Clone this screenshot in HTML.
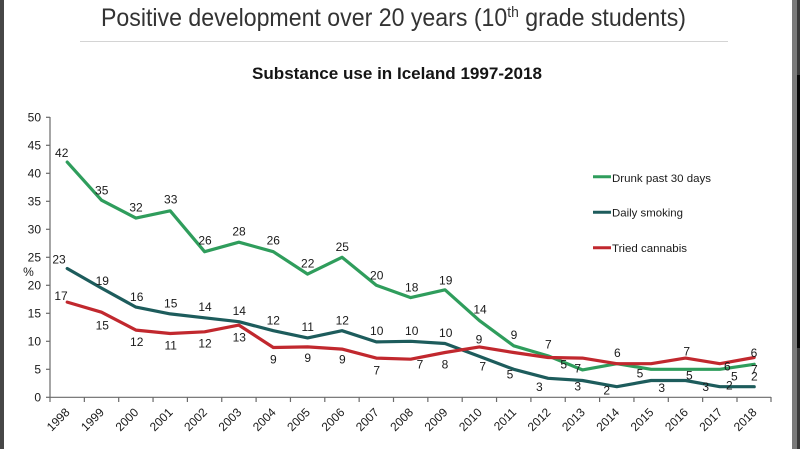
<!DOCTYPE html>
<html>
<head>
<meta charset="utf-8">
<style>
  html, body { margin:0; padding:0; background:#fff; }
  svg { display:block; }
  text { font-family: "Liberation Sans", Arial, sans-serif; fill:#1a1a1a; }
</style>
</head>
<body>
<svg width="800" height="449" viewBox="0 0 800 449" xmlns="http://www.w3.org/2000/svg">
  <rect x="0" y="0" width="800" height="449" fill="#ffffff"/>
  <!-- side borders -->
  <rect x="0" y="0" width="4" height="449" fill="#474747"/>
  <rect x="792" y="0" width="5" height="449" fill="#7a7a7a"/>
  <rect x="797" y="0" width="3" height="449" fill="#3a3a3a"/>
  <rect x="797" y="75" width="3" height="273" fill="#050505"/>

  <!-- Title -->
  <text x="101" y="26" font-size="25" textLength="585" lengthAdjust="spacingAndGlyphs" style="fill:#333">Positive development over 20 years (10<tspan font-size="15" dy="-9">th</tspan><tspan dy="9"> grade students)</tspan></text>
  <line x1="80" y1="41.5" x2="728" y2="41.5" stroke="#d4d4d4" stroke-width="1"/>

  <!-- Subtitle -->
  <text x="252" y="79" font-size="17" font-weight="bold" textLength="290" lengthAdjust="spacingAndGlyphs" style="fill:#151515">Substance use in Iceland 1997-2018</text>

  <!-- Axes -->
  <g stroke="#6a6a6a" stroke-width="1.2" fill="none">
    <line x1="50" y1="117" x2="50" y2="397.3"/>
    <line x1="50" y1="397.3" x2="771" y2="397.3"/>
    <!-- y ticks -->
    <line x1="46" y1="397.3" x2="50" y2="397.3"/>
    <line x1="46" y1="369.3" x2="50" y2="369.3"/>
    <line x1="46" y1="341.3" x2="50" y2="341.3"/>
    <line x1="46" y1="313.3" x2="50" y2="313.3"/>
    <line x1="46" y1="285.3" x2="50" y2="285.3"/>
    <line x1="46" y1="257.3" x2="50" y2="257.3"/>
    <line x1="46" y1="229.3" x2="50" y2="229.3"/>
    <line x1="46" y1="201.3" x2="50" y2="201.3"/>
    <line x1="46" y1="173.3" x2="50" y2="173.3"/>
    <line x1="46" y1="145.3" x2="50" y2="145.3"/>
    <line x1="46" y1="117.3" x2="50" y2="117.3"/>
    <!-- x ticks -->
    <line x1="50" y1="397" x2="50" y2="402"/>
    <line x1="84.35" y1="397" x2="84.35" y2="402"/>
    <line x1="118.7" y1="397" x2="118.7" y2="402"/>
    <line x1="153.05" y1="397" x2="153.05" y2="402"/>
    <line x1="187.4" y1="397" x2="187.4" y2="402"/>
    <line x1="221.75" y1="397" x2="221.75" y2="402"/>
    <line x1="256.1" y1="397" x2="256.1" y2="402"/>
    <line x1="290.45" y1="397" x2="290.45" y2="402"/>
    <line x1="324.8" y1="397" x2="324.8" y2="402"/>
    <line x1="359.15" y1="397" x2="359.15" y2="402"/>
    <line x1="393.5" y1="397" x2="393.5" y2="402"/>
    <line x1="427.85" y1="397" x2="427.85" y2="402"/>
    <line x1="462.2" y1="397" x2="462.2" y2="402"/>
    <line x1="496.55" y1="397" x2="496.55" y2="402"/>
    <line x1="530.9" y1="397" x2="530.9" y2="402"/>
    <line x1="565.25" y1="397" x2="565.25" y2="402"/>
    <line x1="599.6" y1="397" x2="599.6" y2="402"/>
    <line x1="633.95" y1="397" x2="633.95" y2="402"/>
    <line x1="668.3" y1="397" x2="668.3" y2="402"/>
    <line x1="702.65" y1="397" x2="702.65" y2="402"/>
    <line x1="737" y1="397" x2="737" y2="402"/>
    <line x1="771" y1="397" x2="771" y2="402"/>
  </g>

  <!-- y labels -->
  <g font-size="12" text-anchor="end">
    <text x="41" y="401.5">0</text>
    <text x="41" y="373.5">5</text>
    <text x="41" y="345.5">10</text>
    <text x="41" y="317.5">15</text>
    <text x="41" y="289.5">20</text>
    <text x="41" y="261.5">25</text>
    <text x="41" y="233.5">30</text>
    <text x="41" y="205.5">35</text>
    <text x="41" y="177.5">40</text>
    <text x="41" y="149.5">45</text>
    <text x="41" y="121.5">50</text>
  </g>
  <text x="28.5" y="276" font-size="12" text-anchor="middle">%</text>

  <!-- x labels (rotated) -->
  <g font-size="12" text-anchor="end">
    <text transform="translate(70.5,413) rotate(-45)">1998</text>
    <text transform="translate(104.8,413) rotate(-45)">1999</text>
    <text transform="translate(139.2,413) rotate(-45)">2000</text>
    <text transform="translate(173.5,413) rotate(-45)">2001</text>
    <text transform="translate(207.9,413) rotate(-45)">2002</text>
    <text transform="translate(242.2,413) rotate(-45)">2003</text>
    <text transform="translate(276.6,413) rotate(-45)">2004</text>
    <text transform="translate(310.9,413) rotate(-45)">2005</text>
    <text transform="translate(345.3,413) rotate(-45)">2006</text>
    <text transform="translate(379.6,413) rotate(-45)">2007</text>
    <text transform="translate(414.0,413) rotate(-45)">2008</text>
    <text transform="translate(448.3,413) rotate(-45)">2009</text>
    <text transform="translate(482.7,413) rotate(-45)">2010</text>
    <text transform="translate(517.0,413) rotate(-45)">2011</text>
    <text transform="translate(551.4,413) rotate(-45)">2012</text>
    <text transform="translate(585.7,413) rotate(-45)">2013</text>
    <text transform="translate(620.1,413) rotate(-45)">2014</text>
    <text transform="translate(654.4,413) rotate(-45)">2015</text>
    <text transform="translate(688.8,413) rotate(-45)">2016</text>
    <text transform="translate(723.1,413) rotate(-45)">2017</text>
    <text transform="translate(757.5,413) rotate(-45)">2018</text>
  </g>

  <!-- Series lines -->
  <polyline fill="none" stroke="#2f9d5c" stroke-width="3.2" stroke-linejoin="round" stroke-linecap="round"
    points="67.2,162.1 101.5,200.2 135.9,218.1 170.2,210.8 204.6,251.7 238.9,242.2 273.3,251.7 307.6,274.1 342.0,257.3 376.3,285.3 410.7,297.6 445.0,289.8 479.4,320.6 513.7,345.8 548.1,355.9 582.4,369.9 616.8,363.7 651.1,369.3 685.5,369.3 719.8,369.3 754.2,364.3"/>
  <polyline fill="none" stroke="#1d5c5c" stroke-width="3.2" stroke-linejoin="round" stroke-linecap="round"
    points="67.2,268.5 101.5,288.1 135.9,307.1 170.2,313.9 204.6,317.8 238.9,321.7 273.3,330.7 307.6,337.9 342.0,330.7 376.3,341.9 410.7,341.3 445.0,343.5 479.4,356.4 513.7,369.3 548.1,378.3 582.4,380.5 616.8,386.7 651.1,380.5 685.5,380.5 719.8,386.7 754.2,386.7"/>
  <polyline fill="none" stroke="#c1282e" stroke-width="3.2" stroke-linejoin="round" stroke-linecap="round"
    points="67.2,302.1 101.5,312.2 135.9,330.1 170.2,333.5 204.6,331.8 238.9,325.1 273.3,347.5 307.6,346.9 342.0,349.1 376.3,358.1 410.7,359.2 445.0,352.5 479.4,346.9 513.7,352.5 548.1,357.5 582.4,358.1 616.8,363.7 651.1,363.7 685.5,358.1 719.8,363.7 754.2,357.5"/>

  <!-- Data labels -->
  <g font-size="12" text-anchor="middle">
    <!-- green -->
    <text x="61.7" y="157">42</text>
    <text x="101.7" y="194.3">35</text>
    <text x="136" y="211.6">32</text>
    <text x="170.7" y="203.6">33</text>
    <text x="205" y="244.3">26</text>
    <text x="239" y="235.3">28</text>
    <text x="273.3" y="244.3">26</text>
    <text x="307.7" y="267.6">22</text>
    <text x="342.3" y="251">25</text>
    <text x="376.7" y="279.3">20</text>
    <text x="411.7" y="291.6">18</text>
    <text x="445.7" y="284.3">19</text>
    <text x="480" y="313.6">14</text>
    <text x="514" y="338.8">9</text>
    <text x="548.3" y="348.5">7</text>
    <text x="563.7" y="368.5">5</text>
    <text x="640" y="377.6">5</text>
    <text x="689.3" y="379.3">5</text>
    <text x="734.3" y="380.3">5</text>
    <text x="754.3" y="373.6">7</text>
    <!-- teal -->
    <text x="59" y="263.6">23</text>
    <text x="102.3" y="285">19</text>
    <text x="136.7" y="301">16</text>
    <text x="170.7" y="307.6">15</text>
    <text x="205" y="311">14</text>
    <text x="239.3" y="315">14</text>
    <text x="273.3" y="324.3">12</text>
    <text x="307.7" y="331">11</text>
    <text x="342.3" y="324.3">12</text>
    <text x="376.7" y="335">10</text>
    <text x="411.7" y="335">10</text>
    <text x="445.7" y="337">10</text>
    <text x="482.7" y="370.3">7</text>
    <text x="510" y="378.6">5</text>
    <text x="539.3" y="391">3</text>
    <text x="577.7" y="390.3">3</text>
    <text x="606.7" y="394.3">2</text>
    <text x="661.7" y="392">3</text>
    <text x="705.7" y="391">3</text>
    <text x="729.3" y="389.3">2</text>
    <text x="754.3" y="380.3">2</text>
    <!-- red -->
    <text x="61" y="299.8">17</text>
    <text x="102.3" y="329.3">15</text>
    <text x="136.7" y="346">12</text>
    <text x="170.7" y="349.3">11</text>
    <text x="205" y="347.6">12</text>
    <text x="239.3" y="341.6">13</text>
    <text x="273.3" y="363.3">9</text>
    <text x="307.7" y="362">9</text>
    <text x="342.3" y="363.6">9</text>
    <text x="376.7" y="374.3">7</text>
    <text x="420" y="368.6">7</text>
    <text x="445" y="368.3">8</text>
    <text x="479" y="343.6">9</text>
    <text x="577.7" y="372.6">7</text>
    <text x="617.3" y="357">6</text>
    <text x="686.7" y="355.5">7</text>
    <text x="727.3" y="370.3">6</text>
    <text x="754" y="357">6</text>
  </g>

  <!-- Legend -->
  <g stroke-width="3">
    <line x1="593" y1="176.7" x2="611" y2="176.7" stroke="#2f9d5c"/>
    <line x1="593" y1="212.3" x2="611" y2="212.3" stroke="#1d5c5c"/>
    <line x1="593" y1="247.7" x2="611" y2="247.7" stroke="#c1282e"/>
  </g>
  <g font-size="11">
    <text x="612" y="182" textLength="99" lengthAdjust="spacingAndGlyphs">Drunk past 30 days</text>
    <text x="612" y="216.5" textLength="71" lengthAdjust="spacingAndGlyphs">Daily smoking</text>
    <text x="612" y="252" textLength="75" lengthAdjust="spacingAndGlyphs">Tried cannabis</text>
  </g>
</svg>
</body>
</html>
